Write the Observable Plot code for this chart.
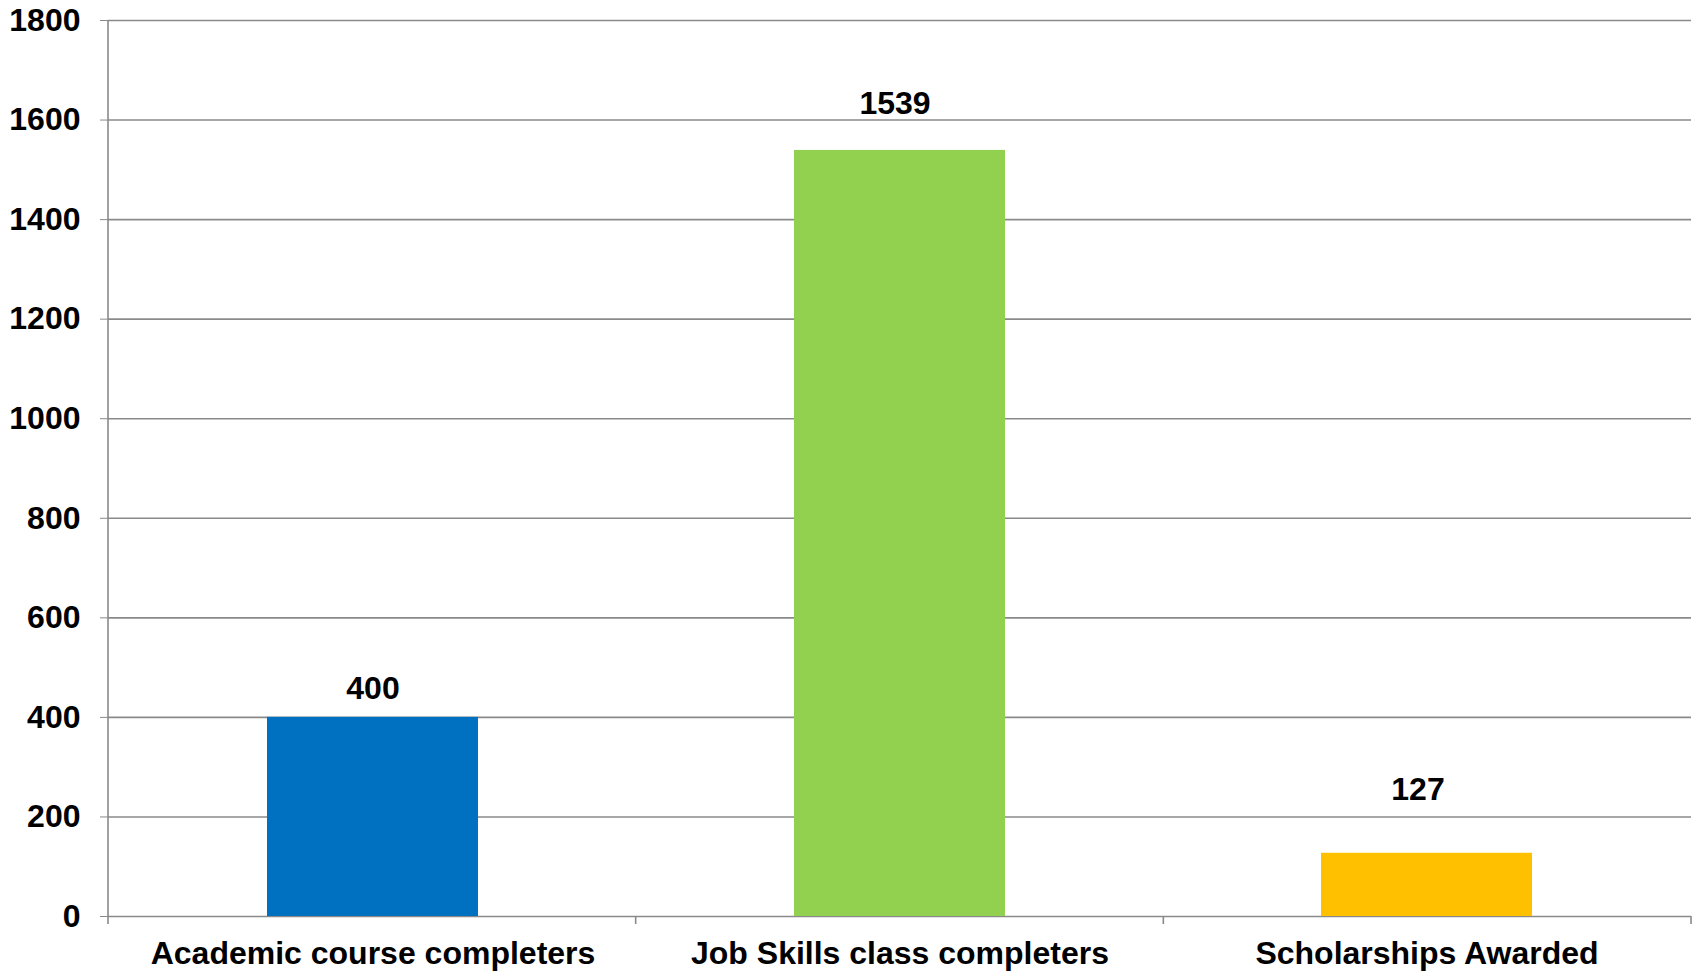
<!DOCTYPE html>
<html>
<head>
<meta charset="utf-8">
<script src="https://cdn.jsdelivr.net/npm/d3@7"></script>
<script src="https://cdn.jsdelivr.net/npm/@observablehq/plot@0.6"></script>
<style>
  html, body { margin: 0; padding: 0; background: #fff; }
  #chart svg text { fill: #000; }
</style>
</head>
<body>
<div id="chart"></div>
<script>
// Data
const categories = ["Academic course completers", "Job Skills class completers", "Scholarships Awarded"];
const values = [400, 1539, 127];
const yTicks = [0, 200, 400, 600, 800, 1000, 1200, 1400, 1600, 1800];

// Styling
const barColors = ["#0070C0", "#92D050", "#FFC000"];
const labelShift = [[0, -29], [-5, -47], [-9, -64]]; // label offsets (dx, dy) as placed in the reference
const gridColor = "#8a8a8a";

const rows = categories.map((c, i) => ({cat: c, value: values[i]}));

const W = 1696, H = 972;
const plot = Plot.plot({
  width: W,
  height: H,
  marginTop: 20,
  marginLeft: 108,
  marginRight: 5,
  marginBottom: 56,
  style: {
    fontFamily: "'Liberation Sans', Arial, sans-serif",
    fontSize: "32px",
    fontWeight: "bold",
    color: gridColor,
    background: "#fff"
  },
  x: {domain: categories, paddingInner: 0.6, paddingOuter: 0.3, tickSize: 0, tickPadding: 25, label: null},
  y: {domain: [0, 1800], ticks: yTicks, tickSize: 8, tickPadding: 20, tickFormat: d => String(d), label: null},
  color: {domain: categories, range: barColors},
  marks: [
    Plot.ruleY(yTicks, {stroke: gridColor, strokeWidth: 1.6}),
    Plot.barY(rows, {x: "cat", y: "value", fill: "cat"}),
    ...rows.map((r, i) => Plot.text([r], {
      x: "cat", y: "value", text: d => String(d.value),
      dx: labelShift[i][0], dy: labelShift[i][1], lineAnchor: "middle", fill: "#000"
    }))
  ]
});

document.getElementById("chart").appendChild(plot);

// Axis line and category separator ticks, derived from the plot's scales
const xs = plot.scale("x");
const ys = plot.scale("y");
const x0 = xs.range[0], x1 = xs.range[1];
const step = (x1 - x0) / categories.length;
const yBottom = ys.apply(0), yTop = ys.apply(1800);
const svg = d3.select(plot);
const g = svg.append("g").attr("stroke", gridColor).attr("stroke-width", 1.6);
g.append("line").attr("x1", x0).attr("x2", x0).attr("y1", yTop).attr("y2", yBottom + 8);
for (let k = 1; k <= categories.length; k++) {
  const xx = x0 + k * step;
  g.append("line").attr("x1", xx).attr("x2", xx).attr("y1", yBottom).attr("y2", yBottom + 8);
}
</script>
</body>
</html>
